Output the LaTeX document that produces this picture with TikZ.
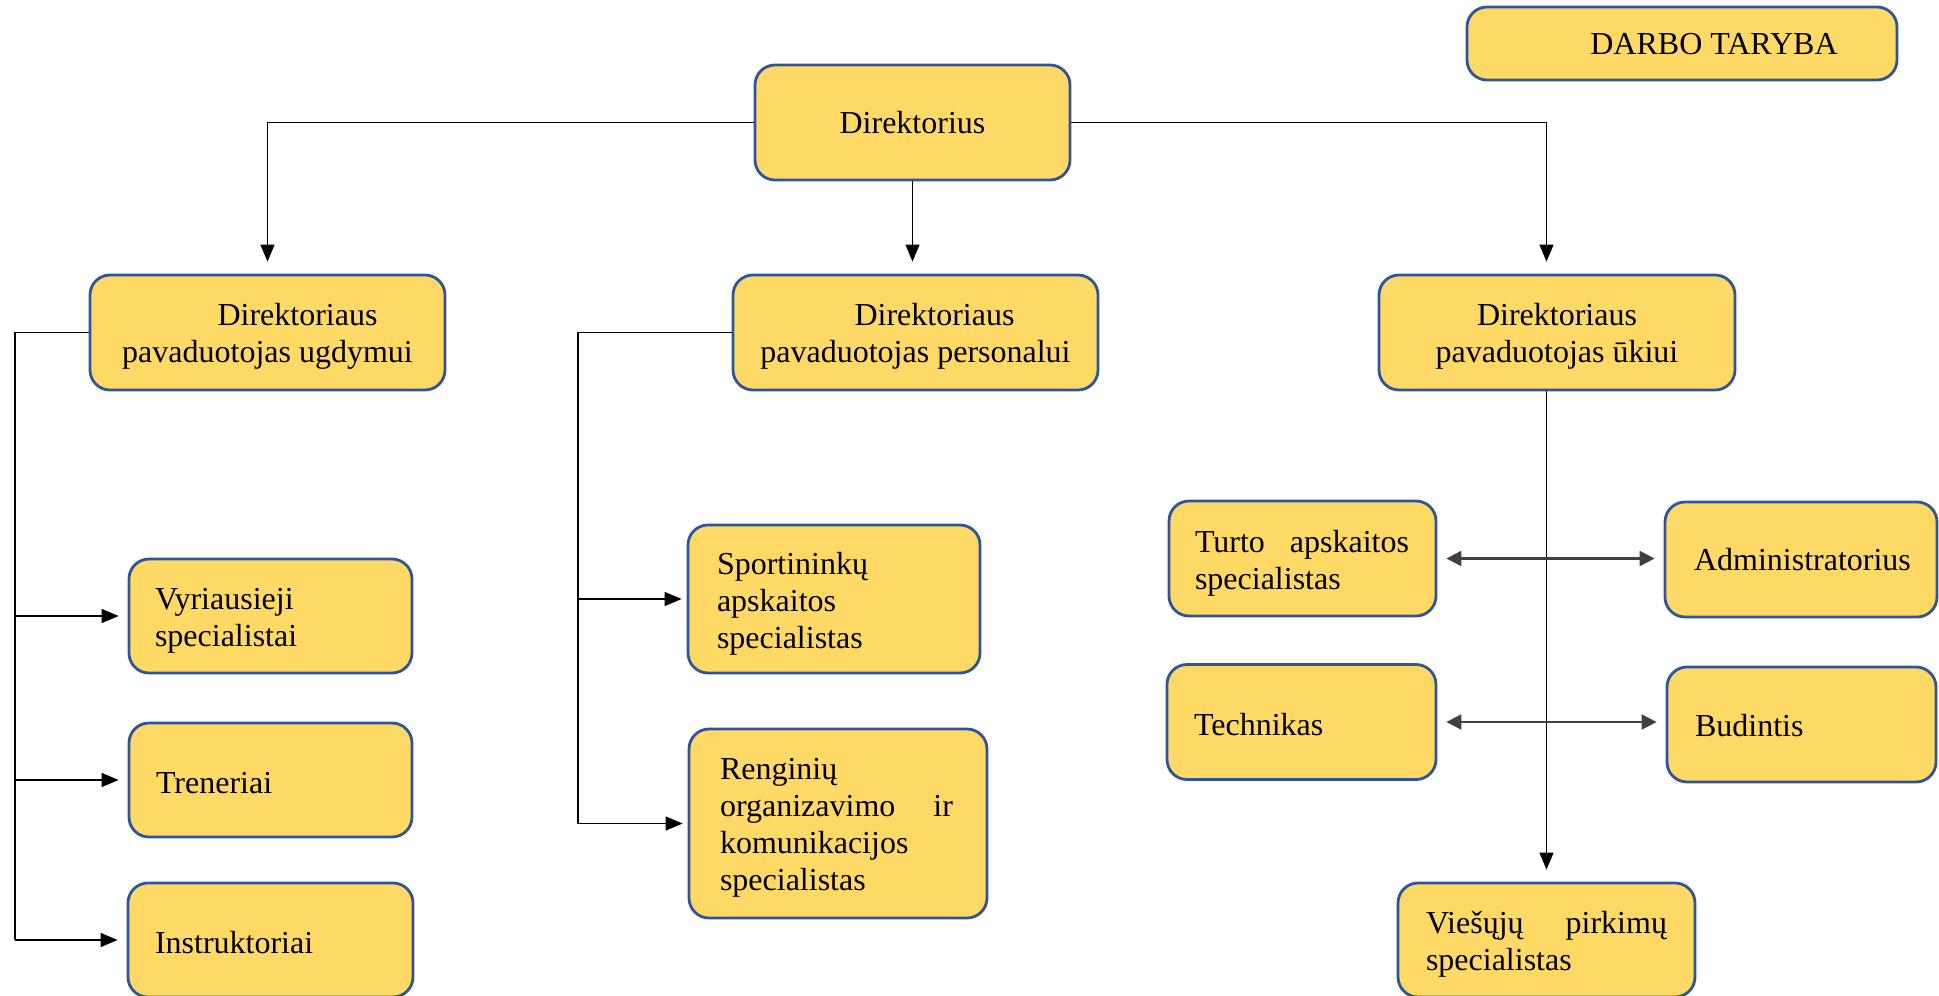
\documentclass[tikz,border=0pt]{standalone}
\usepackage{fontspec}
\setmainfont{Liberation Serif}
\usetikzlibrary{arrows.meta}
\definecolor{boxc}{RGB}{255,217,102}
\definecolor{bordc}{RGB}{47,85,151}
\newcommand{\fsz}{\fontsize{32}{37}\selectfont}
\newcommand{\jline}[3]{\leavevmode\hbox to #1{#2\hfill #3}}
\newcommand{\topstrut}[1]{\rule{0pt}{#1}}
\begin{document}
\begin{tikzpicture}[x=1pt,y=-1pt,
  orgbox/.style={draw=bordc, fill=boxc, line width=2.8pt, rounded corners=20pt,
    inner ysep=0pt, inner xsep=0pt, font=\fsz, text=black},
  lbox/.style n args={3}{orgbox, minimum width=#1, minimum height=#2,
    inner xsep=#3, text width=#1-2*#3, align=left},
  cbox/.style n args={2}{orgbox, minimum width=#1, minimum height=#2, align=center, text depth=0pt},
  conn/.style={line width=1.3pt, draw=black},
  arr/.style={conn, -{Triangle[length=17pt,width=14pt]}},
  darr/.style={line width=2.2pt, draw=black!75,
    {Triangle[length=15pt,width=15pt]}-{Triangle[length=15pt,width=15pt]},
    shorten <=9pt, shorten >=9pt}]
\useasboundingbox (0,0) rectangle (1939,996);

% nodes
\node[cbox={430}{73}] (darbo) at (1682,43.5) {\hspace*{64pt}DARBO TARYBA};
\node[cbox={315}{115}] (dir) at (912.5,122.5) {Direktorius};
\node[cbox={355}{115}] (ugd) at (267.5,332.5) {\hspace*{60pt}Direktoriaus\\pavaduotojas ugdymui};
\node[cbox={365}{115}] (pers) at (915.5,332.5) {\hspace*{38pt}Direktoriaus\\pavaduotojas personalui};
\node[cbox={356}{115}] (uk) at (1557,332.5) {Direktoriaus\\pavaduotojas ūkiui};

\node[lbox={283}{114}{26}] (vyr) at (270.5,616) {\topstrut{31pt}Vyriausieji\\specialistai};
\node[lbox={283}{114}{27}] (tren) at (270.5,780) {\topstrut{27pt}Treneriai};
\node[lbox={285}{114}{27}] (instr) at (270.5,940) {\topstrut{27pt}Instruktoriai};

\node[lbox={292}{148}{29}] (sport) at (834,599) {\topstrut{31pt}Sportininkų\\apskaitos\\specialistas};
\node[lbox={298}{189}{31}] (reng) at (838,823.5) {\topstrut{30pt}Renginių\\\jline{233pt}{organizavimo}{ir}\\komunikacijos\\specialistas};

\node[lbox={267}{115}{26}] (turto) at (1302.5,558.5) {\topstrut{31pt}\jline{214pt}{Turto}{apskaitos}\\specialistas};
\node[lbox={269}{115}{27}] (tech) at (1301.5,722) {\topstrut{27pt}Technikas};
\node[lbox={272}{115}{29}] (adm) at (1801,559.5) {Administratorius};
\node[lbox={269}{115}{28}] (bud) at (1801.5,724.5) {\topstrut{24pt}Budintis};
\node[lbox={297}{114}{28}] (vies) at (1546.5,940) {\topstrut{30pt}\jline{241pt}{Viešųjų}{pirkimų}\\specialistas};

% spine coordinates
\coordinate (sL) at (15,0);
\coordinate (sP) at (578,0);

% top level connectors
\draw[arr, shorten >=12pt] (dir.west) -| (ugd.north);
\draw[arr, shorten >=12pt] (dir.south) -- (dir.south |- pers.north);
\draw[arr, shorten >=12pt] (dir.east) -| (vies.north |- uk.north);

% left tree
\draw[conn] (ugd.west) -- (sL |- ugd.west) -- (sL |- instr.west);
\draw[arr, shorten >=9pt] (sL |- vyr.west) -- (vyr.west);
\draw[arr, shorten >=9pt] (sL |- tren.west) -- (tren.west);
\draw[arr, shorten >=9pt] (sL |- instr.west) -- (instr.west);

% middle tree
\draw[conn] (pers.west) -- (sP |- pers.west) -- (sP |- reng.west);
\draw[arr, shorten >=5pt] (sP |- sport.west) -- (sport.west);
\draw[arr, shorten >=5pt] (sP |- reng.west) -- (reng.west);

% right tree
\draw[arr, shorten >=12pt] (uk.south -| vies.north) -- (vies.north);
\draw[darr] (turto.east) -- (turto.east -| adm.west);
\draw[darr] (tech.east) -- (tech.east -| bud.west);
\end{tikzpicture}
\end{document}
